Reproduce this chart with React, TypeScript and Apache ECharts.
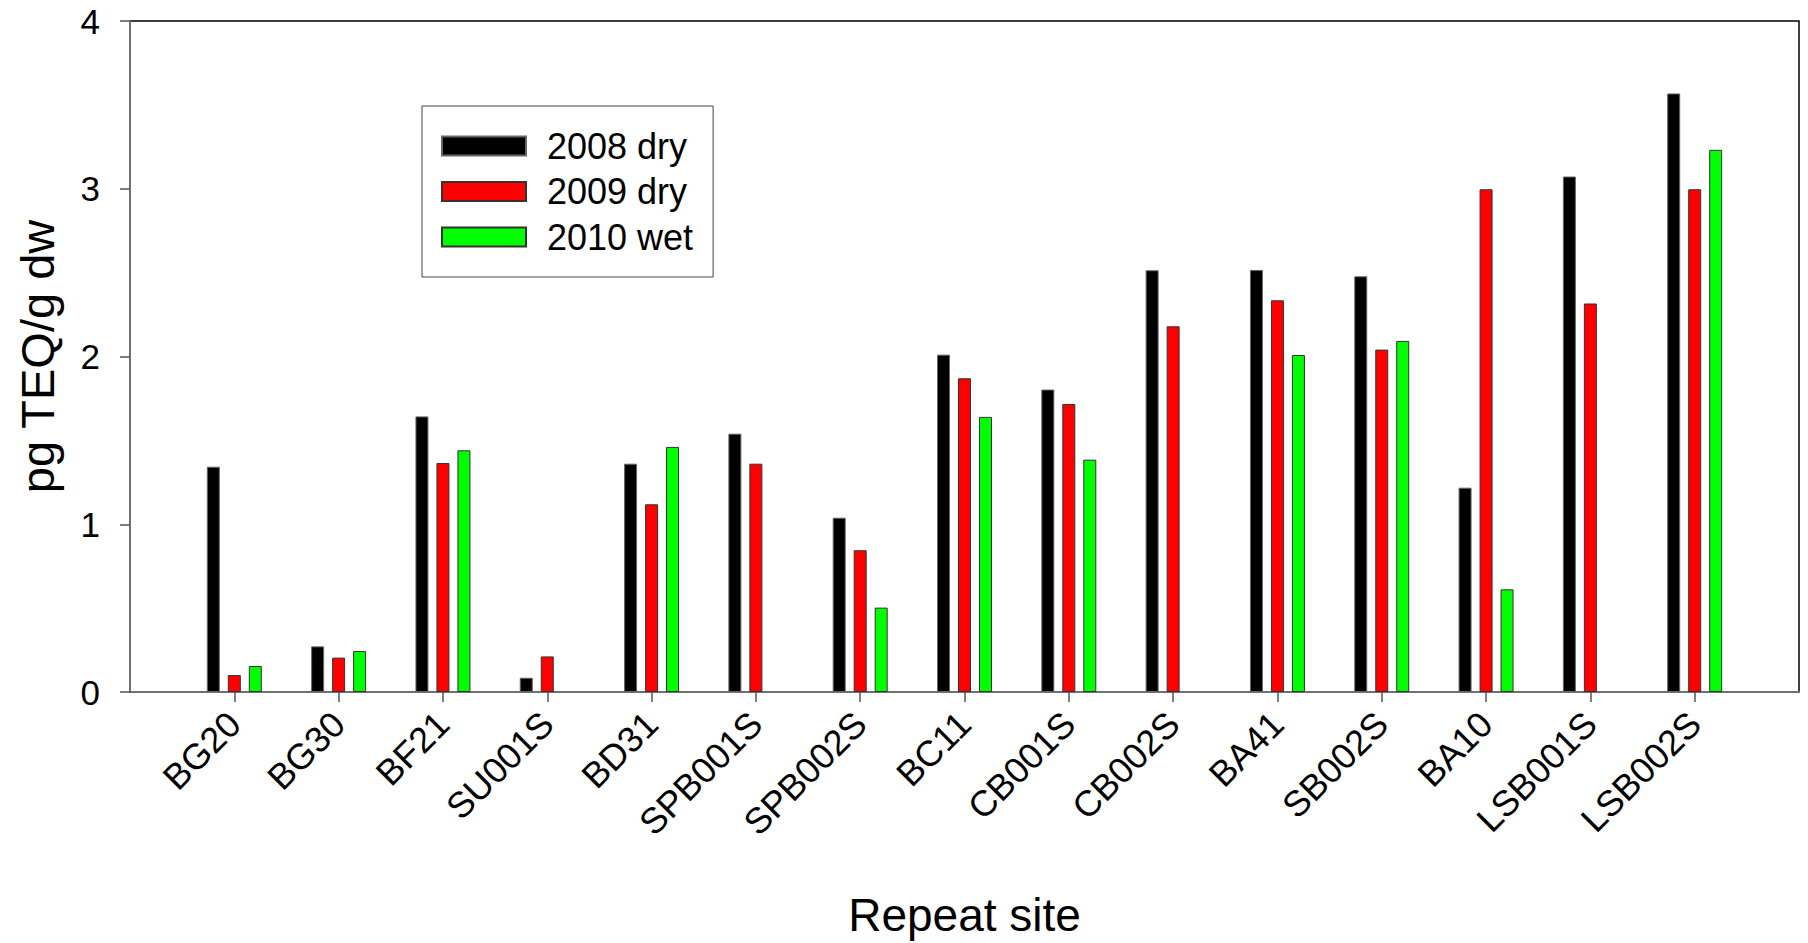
import React, { useEffect, useRef } from "react";
import * as echarts from "echarts";

const sites = ["BG20", "BG30", "BF21", "SU001S", "BD31", "SPB001S", "SPB002S", "BC11", "CB001S", "CB002S", "BA41", "SB002S", "BA10", "LSB001S", "LSB002S"];
const dry2008 = [1.343, 0.272, 1.643, 0.085, 1.361, 1.54, 1.039, 2.011, 1.803, 2.514, 2.516, 2.478, 1.218, 3.073, 3.568];
const dry2009 = [0.101, 0.205, 1.365, 0.212, 1.119, 1.361, 0.845, 1.87, 1.717, 2.18, 2.335, 2.041, 2.997, 2.316, 2.997];
const wet2010 = [0.155, 0.244, 1.441, null, 1.461, null, 0.503, 1.64, 1.385, null, 2.009, 2.093, 0.612, null, 3.232];
const yTicks = [0, 1, 2, 3, 4];
const seriesNames = ["2008 dry", "2009 dry", "2010 wet"];

const FONT = "'Liberation Sans', Arial, Helvetica, sans-serif";

export default function App() {
  const ref = useRef<HTMLDivElement>(null);
  useEffect(() => {
    if (!ref.current) return;
    const chart = echarts.init(ref.current, null, { renderer: "svg" });
    const cats = ["", ...sites, ""];
    const pad = (a: (number | null)[]) => [null, ...a, null];
    const mk = (name: string, data: (number | null)[], color: string, border: string) => ({
      name,
      type: "bar",
      data: pad(data),
      barWidth: 13,
      barGap: "61.5%",
      itemStyle: { color, borderColor: border, borderWidth: 1 },
    });
    chart.setOption({
      animation: false,
      backgroundColor: "#ffffff",
      textStyle: { fontFamily: FONT },
      grid: { left: 130, top: 21, right: 9, bottom: 251, show: true, borderColor: "#000", borderWidth: 1.5, backgroundColor: "transparent" },
      legend: {
        orient: "vertical",
        left: 422,
        top: 106,
        data: seriesNames,
        itemWidth: 84,
        itemHeight: 19,
        itemGap: 9.5,
        padding: [22, 20, 22, 19],
        borderColor: "#444",
        borderWidth: 1,
        icon: "rect",
        textStyle: { fontSize: 36, fontFamily: FONT, color: "#000", padding: [0, 0, 0, 16] },
      },
      xAxis: {
        type: "category",
        data: cats,
        boundaryGap: false,
        name: "Repeat site",
        nameLocation: "middle",
        nameGap: 200,
        nameTextStyle: { fontSize: 46, color: "#000", fontFamily: FONT },
        axisLine: { lineStyle: { color: "#707070", width: 2 } },
        axisTick: { show: true, length: 10, interval: (i: number, v: string) => v !== "", lineStyle: { color: "#555", width: 1.5 } },
        axisLabel: { interval: 0, rotate: 45, margin: 26, fontSize: 36, color: "#000", fontFamily: FONT },
        splitLine: { show: false },
      },
      yAxis: {
        type: "value",
        min: yTicks[0],
        max: yTicks[yTicks.length - 1],
        interval: 1,
        name: "pg TEQ/g dw",
        nameLocation: "middle",
        nameGap: 69,
        nameTextStyle: { fontSize: 47, color: "#000", fontFamily: FONT },
        axisLine: { show: true, lineStyle: { color: "#707070", width: 2 } },
        axisTick: { show: true, length: 10, lineStyle: { color: "#555", width: 1.5 } },
        axisLabel: { margin: 30, fontSize: 35, color: "#000", fontFamily: FONT },
        splitLine: { show: false },
      },
      series: [
        mk(seriesNames[0], dry2008, "#000000", "#666"),
        mk(seriesNames[1], dry2009, "#ff0000", "#333"),
        mk(seriesNames[2], wet2010, "#00ff00", "#333"),
      ],
    });
    return () => chart.dispose();
  }, []);
  return <div ref={ref} style={{ position: "absolute", left: 0, top: 0, width: 1808, height: 943 }} />;
}
